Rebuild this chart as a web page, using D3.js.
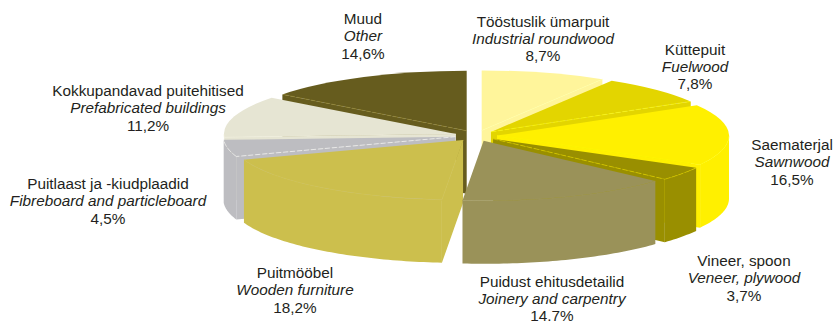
<!DOCTYPE html>
<html lang="et">
<head>
<meta charset="UTF-8">
<script src="https://d3js.org/d3.v7.min.js"></script>
<style>
  html, body { margin: 0; padding: 0; background: #fff; }
  svg { display: block; }
  text { font-family: "Liberation Sans", Arial, sans-serif; font-size: 15.3px; fill: #231f20; text-anchor: middle; }
</style>
<title>Puidu kasutus</title>
</head>
<body>
<script>
// data, in clockwise order from 12 o'clock
const namesEt = ["Tööstuslik ümarpuit", "Küttepuit", "Saematerjal", "Vineer, spoon", "Puidust ehitusdetailid", "Puitmööbel", "Puitlaast ja -kiudplaadid", "Kokkupandavad puitehitised", "Muud"];
const namesEn = ["Industrial roundwood", "Fuelwood", "Sawnwood", "Veneer, plywood", "Joinery and carpentry", "Wooden furniture", "Fibreboard and particleboard", "Prefabricated buildings", "Other"];
const shares = [8.7, 7.8, 16.5, 3.7, 14.7, 18.2, 4.5, 11.2, 14.6];
const shareLabels = ["8,7%", "7,8%", "16,5%", "3,7%", "14.7%", "18,2%", "4,5%", "11,2%", "14,6%"];
const colors = ["#fff59b", "#e3d500", "#fff000", "#998f00", "#9a9259", "#ccbf4d", "#bdbdc1", "#e6e5d3", "#665c1e"];

// layout
const w = 835, h = 324;
const labelX = [543, 695, 792, 744, 552, 295, 108, 148, 363];
const labelY = [26.5, 54.5, 150, 266, 286.5, 278, 189, 96, 24];
const lineGap = 17.4;
const dashedEdge = [false, true, false, true, false, false, true, false, true];
// back slices first, so front ones cover them
const paintOrder = [0, 1, 8, 7, 2, 3, 6, 5, 4];

const cx = 476, cy = 135.7;   // pie centre before slices are pulled out
const rx = 232, ry = 60;      // top ellipse
const pull = 21;              // explosion distance on the x radius
const depth = 63;

const svg = d3.select("body").append("svg").attr("width", w).attr("height", h);

// unit circle -> screen
const scaleX = d3.scaleLinear([-1, 1], [-rx, rx]);
const scaleY = d3.scaleLinear([-1, 1], [-ry, ry]);

const pie = d3.pie().sort(null).startAngle(0).endAngle(2 * Math.PI);
const arcs = pie(shares);
const topArc = d3.arc().innerRadius(0).outerRadius(rx);
const line = d3.line();

// point on the rim at angle a (clockwise from north) for a slice with given apex
function rim(apex, a, dy) {
    return [apex[0] + scaleX(Math.sin(a)), apex[1] - scaleY(Math.cos(a)) + (dy || 0)];
}
function rimPoints(apex, a0, a1, dy) {
    const n = Math.max(2, Math.ceil((a1 - a0) / 0.02));
    return d3.range(n + 1).map(i => rim(apex, a0 + (a1 - a0) * i / n, dy));
}

paintOrder.forEach(function(i) {
    const d = arcs[i];
    const mid = (d.startAngle + d.endAngle) / 2;
    const apex = [cx + pull * Math.sin(mid), cy - pull * (ry / rx) * Math.cos(mid)];
    const g = svg.append("g").attr("fill", colors[i]);

    // cut faces turned towards the viewer
    const cuts = [];
    if (Math.sin(d.startAngle) < 0) cuts.push(d.startAngle);
    if (Math.sin(d.endAngle) > 0) cuts.push(d.endAngle);
    cuts.forEach(function(a) {
        const c = rim(apex, a);
        g.append("path")
            .attr("d", line([apex, c, [c[0], c[1] + depth], [apex[0], apex[1] + depth]]) + "Z");
    });

    // outer wall, front half only
    const w0 = Math.max(d.startAngle, Math.PI / 2);
    const w1 = Math.min(d.endAngle, 3 * Math.PI / 2);
    if (w1 > w0) {
        const upper = rimPoints(apex, w0, w1);
        const lower = rimPoints(apex, w0, w1, depth).reverse();
        g.append("path").attr("d", line(upper.concat(lower)) + "Z");
    }

    // top face
    g.append("path")
        .attr("transform", "translate(" + apex + ") scale(1," + ry / rx + ")")
        .attr("d", topArc(d));

    // pale hairlines where the top meets a wall
    const dash = dashedEdge[i] ? "5 2" : null;
    const pale = d3.color(colors[i]).brighter(dashedEdge[i] ? 1.1 : 0.12);
    cuts.forEach(function(a) {
        g.append("path")
            .attr("fill", "none")
            .attr("stroke", pale)
            .attr("stroke-width", 0.6)
            .attr("stroke-dasharray", dash)
            .attr("d", line([apex, rim(apex, a)]));
    });
    if (w1 > w0) {
        g.append("path")
            .attr("fill", "none")
            .attr("stroke", pale)
            .attr("stroke-width", 0.5)
            .attr("stroke-dasharray", dash)
            .attr("d", line(rimPoints(apex, w0, w1)));
    }
});

// labels
namesEt.forEach(function(name, i) {
    const t = svg.append("text").attr("y", labelY[i]);
    t.append("tspan").attr("x", labelX[i]).text(name);
    t.append("tspan").attr("x", labelX[i]).attr("dy", lineGap).attr("font-style", "italic").text(namesEn[i]);
    t.append("tspan").attr("x", labelX[i]).attr("dy", lineGap).text(shareLabels[i]);
});
</script>
</body>
</html>
